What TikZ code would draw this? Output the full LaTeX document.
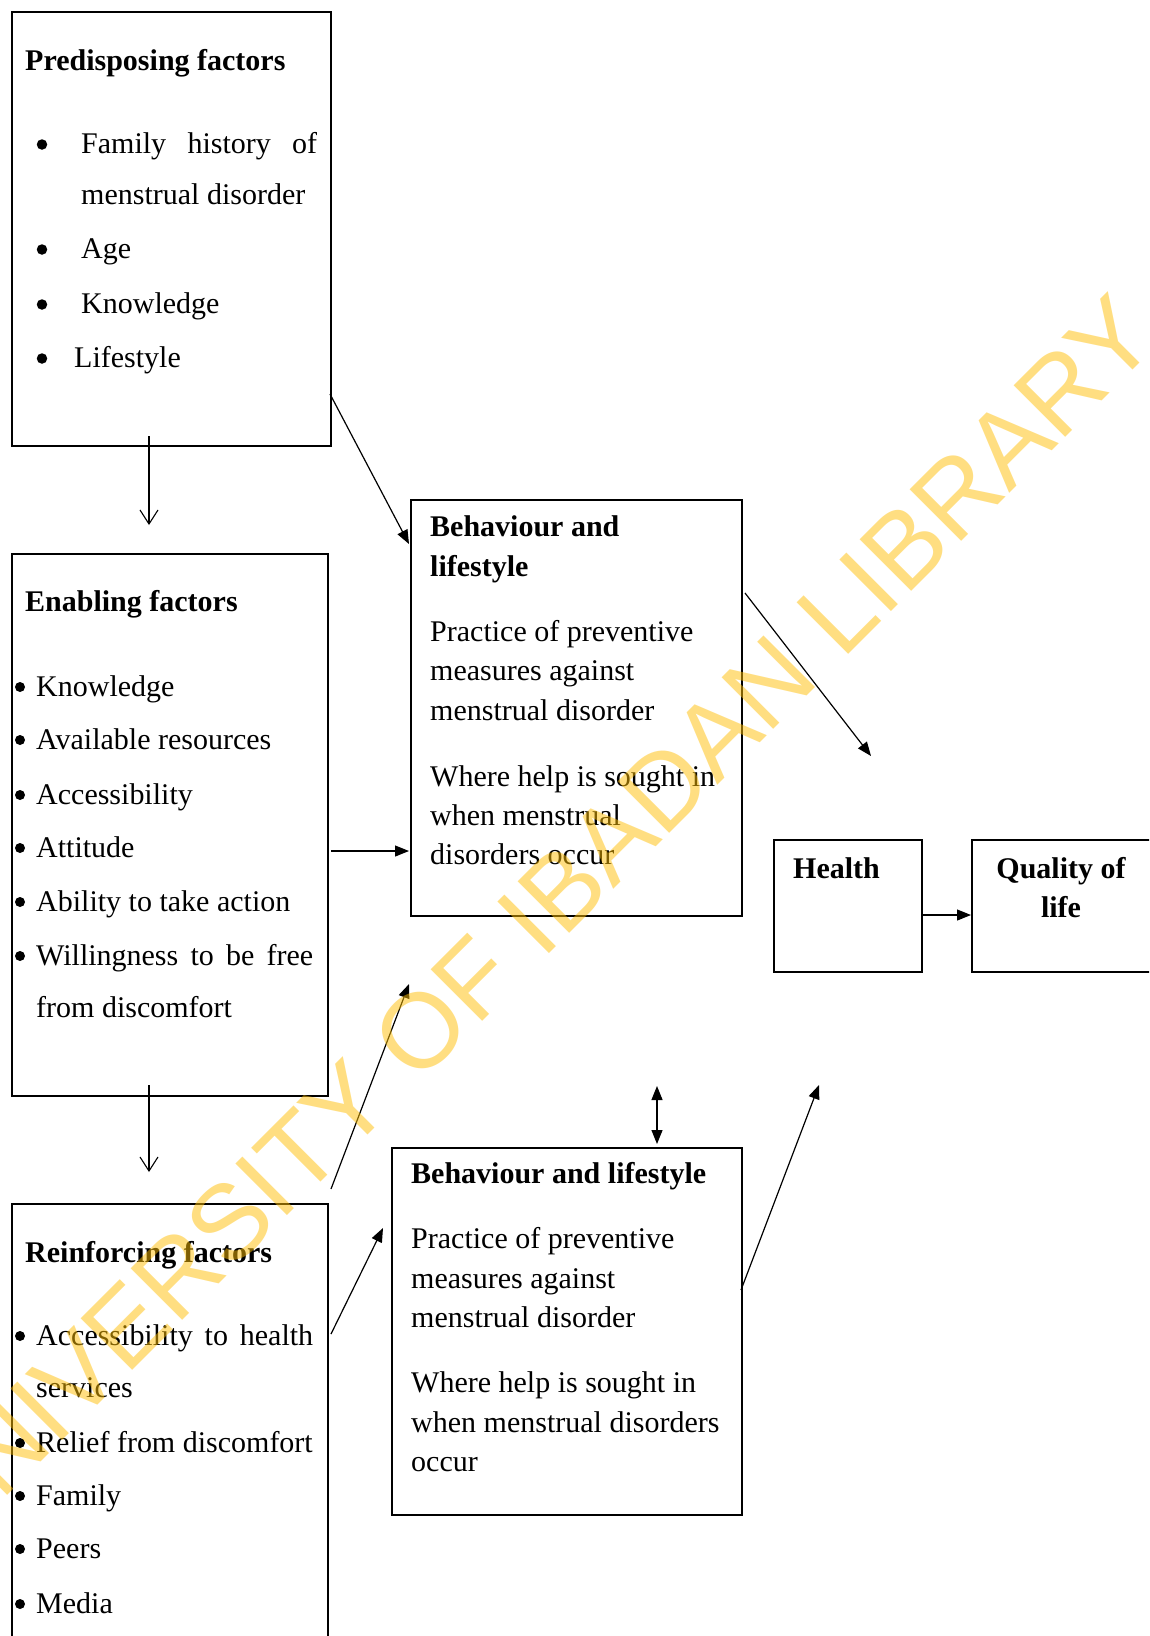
\documentclass[tikz,border=0pt]{standalone}
\usepackage{fontspec}
\setmainfont{Liberation Serif}
\newfontfamily\wmfont{Liberation Sans}
\usetikzlibrary{arrows.meta}
\newcommand\mfsz{\fontsize{30}{35}\selectfont}
\definecolor{wmcol}{RGB}{255,191,5}
\tikzset{
  box/.style={draw, line width=1.5pt, inner sep=0pt, anchor=north west},
  txt/.style={inner sep=0pt, anchor=base west, font=\mfsz},
  ttl/.style={inner sep=0pt, anchor=base west, font=\mfsz\bfseries},
  dot/.style={circle, fill=black, draw=none, inner sep=0pt, minimum size=10.5pt},
  arr/.style={line width=1.2pt, -{Triangle[length=14pt,width=11pt]}},
  darr/.style={line width=1.2pt, {Triangle[length=14pt,width=11pt]}-{Triangle[length=14pt,width=11pt]}},
  oarr/.style={line width=1.1pt, -{Straight Barb[length=14pt,width=18pt,line width=1.1pt]}},
}
\begin{document}
\begin{tikzpicture}[x=1pt,y=-1pt]
\useasboundingbox (0,0) rectangle (1149,1636);
\fill[white] (0,0) rectangle (1149,1636);
\clip (0,0) rectangle (1149,1636);

% boxes
\node[box, minimum width=319pt, minimum height=434pt] (pre) at (11,11) {};
\node[box, minimum width=316pt, minimum height=542pt] (en) at (11,553) {};
\node[box, minimum width=316pt, minimum height=560pt] (re) at (11,1203) {};
\node[box, minimum width=331pt, minimum height=416pt] (bA) at (410,499) {};
\node[box, minimum width=350pt, minimum height=367pt] (bB) at (391,1147) {};
\node[box, minimum width=148pt, minimum height=132pt] (hl) at (773,839) {};
\node[box, minimum width=200pt, minimum height=132pt] (ql) at (971,839) {};

% predisposing
\node[ttl] (preT) at (25,70) {Predisposing factors};
\foreach \yy [count=\i] in {153,258,313,367}
  \node[dot] (pb\i) at (42,\yy-8.5) {};
\node[txt] (p1) at (81,153) {\makebox[236pt][s]{Family history of}};
\node[txt] (p2) at (81,204) {menstrual disorder};
\node[txt] (p3) at (81,258) {Age};
\node[txt] (p4) at (81,313) {Knowledge};
\node[txt] (p5) at (74,367) {Lifestyle};

% enabling
\node[ttl] (enT) at (25,611) {Enabling factors};
\foreach \yy [count=\i] in {696,749,804,857,911,965}
  \node[dot, minimum size=10pt] (eb\i) at (20,\yy-9) {};
\node[txt] (e1) at (36,696) {Knowledge};
\node[txt] (e2) at (36,749) {Available resources};
\node[txt] (e3) at (36,804) {Accessibility};
\node[txt] (e4) at (36,857) {Attitude};
\node[txt] (e5) at (36,911) {Ability to take action};
\node[txt] (e6) at (36,965) {\makebox[277pt][s]{Willingness to be free}};
\node[txt] (e7) at (36,1017) {from discomfort};

% reinforcing
\node[ttl] (reT) at (25,1262) {Reinforcing factors};
\foreach \yy [count=\i] in {1345,1452,1505,1558,1613}
  \node[dot, minimum size=10pt] (rb\i) at (20,\yy-9) {};
\node[txt] (r1) at (36,1345) {\makebox[277pt][s]{Accessibility to health}};
\node[txt] (r2) at (36,1397) {services};
\node[txt] (r3) at (36,1452) {Relief from discomfort};
\node[txt] (r4) at (36,1505) {Family};
\node[txt] (r5) at (36,1558) {Peers};
\node[txt] (r6) at (36,1613) {Media};

% behaviour 1
\node[ttl] (aT1) at (430,536) {Behaviour and};
\node[ttl] (aT2) at (430,576) {lifestyle};
\node[txt] (a1) at (430,641) {Practice of preventive};
\node[txt] (a2) at (430,680) {measures against};
\node[txt] (a3) at (430,720) {menstrual disorder};
\node[txt] (a4) at (430,786) {Where help is sought in};
\node[txt] (a5) at (430,825) {when menstrual};
\node[txt] (a6) at (430,864) {disorders occur};

% behaviour 2
\node[ttl] (bT) at (411,1183) {Behaviour and lifestyle};
\node[txt] (b1) at (411,1248) {Practice of preventive};
\node[txt] (b2) at (411,1288) {measures against};
\node[txt] (b3) at (411,1327) {menstrual disorder};
\node[txt] (b4) at (411,1392) {Where help is sought in};
\node[txt] (b5) at (411,1432) {when menstrual disorders};
\node[txt] (b6) at (411,1471) {occur};

% health, quality of life
\node[ttl] (hT) at (793,878) {Health};
\node[inner sep=0pt, anchor=base, font=\mfsz\bfseries] (qT1) at (1061,878) {Quality of};
\node[inner sep=0pt, anchor=base, font=\mfsz\bfseries] (qT2) at (1061,917) {life};

% connector end points
\coordinate (c1s) at (149,436);  \coordinate (c1e) at (149,525);
\coordinate (c2s) at (330,394);  \coordinate (c2e) at (409,544);
\coordinate (c3s) at (331,851);  \coordinate (c3e) at (409,851);
\coordinate (c4s) at (149,1085); \coordinate (c4e) at (149,1172);
\coordinate (c5s) at (331,1189); \coordinate (c5e) at (409,984);
\coordinate (c6s) at (331,1334); \coordinate (c6e) at (383,1228);
\coordinate (c7s) at (745,593);  \coordinate (c7e) at (871,756);
\coordinate (c8s) at (741,1290); \coordinate (c8e) at (819,1085);
\coordinate (c9s) at (657,1086); \coordinate (c9e) at (657,1144);
\coordinate (c10s) at (923,915); \coordinate (c10e) at (971,915);

\draw[oarr] (c1s) -- (c1e);
\draw[arr] (c2s) -- (c2e);
\draw[arr] (c3s) -- (c3e);
\draw[oarr] (c4s) -- (c4e);
\draw[arr] (c5s) -- (c5e);
\draw[arr] (c6s) -- (c6e);
\draw[arr] (c7s) -- (c7e);
\draw[arr] (c8s) -- (c8e);
\draw[darr] (c9s) -- (c9e);
\draw[arr] (c10s) -- (c10e);

% watermark
\node[inner sep=0pt, anchor=base west, rotate=45, text=wmcol, text opacity=0.5,
      font=\wmfont\fontsize{106}{106}\selectfont] (wm) at (-53,1556) {UNIVERSITY OF IBADAN LIBRARY};
\end{tikzpicture}
\end{document}
